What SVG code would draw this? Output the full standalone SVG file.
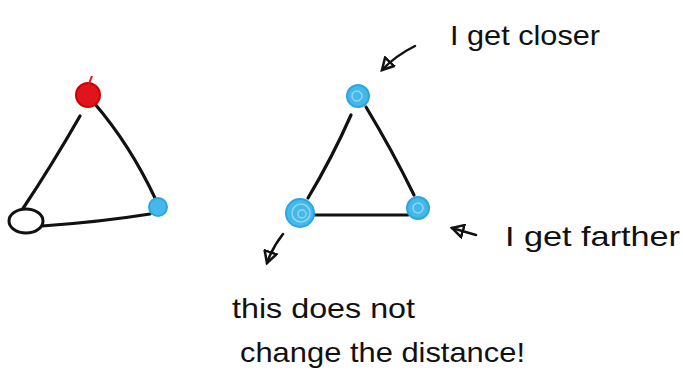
<svg xmlns="http://www.w3.org/2000/svg" width="683" height="387" viewBox="0 0 683 387">
<style>
.edge{fill:none;stroke:#111;stroke-width:3.2;stroke-linecap:round}
.ptr{fill:none;stroke:#111;stroke-width:2.5;stroke-linecap:round;marker-end:url(#head)}
.blue{fill:#45b8ea;stroke:#2aa6e0;stroke-width:2}
.ring{fill:none;stroke:#8fd6f5;stroke-width:1.5}
.lbl{font-family:"Liberation Sans",Arial,sans-serif;font-size:28px;fill:#111}
</style>
<defs>
<marker id="head" viewBox="0 0 12 12" refX="10" refY="6" markerWidth="6" markerHeight="6" orient="auto" markerUnits="strokeWidth">
<path d="M1,1 L10,6 L1,11 Z" fill="none" stroke="#111" stroke-width="2"/>
</marker>
</defs>
<rect width="683" height="387" fill="#fff"/>
<g id="connectors">
<path class="edge" d="M80,116 Q52,165 22,210"/>
<path class="edge" d="M95,104 Q130,145 155,198"/>
<path class="edge" d="M42,226 Q100,222 150,214"/>
<path class="edge" d="M351,115 Q332,158 308,198" stroke-width="2.5"/>
<path class="edge" d="M366,107 Q392,150 414,195" stroke-width="2.5"/>
<path class="edge" d="M312,215 L408,215" stroke-width="2.5"/>
<path class="ptr" d="M415,46 Q395,56 382,70"/>
<path class="ptr" d="M476,235 L452,228"/>
<path class="ptr" d="M283,234 Q272,248 267,263"/>
</g>
<g id="node-red">
<circle cx="88" cy="95" r="12" fill="#e2141b" stroke="#c00" stroke-width="2"/>
<path d="M88,86 L92,76" stroke="#e2141b" stroke-width="2" fill="none"/>
</g>
<g id="node-black">
<ellipse cx="26" cy="221" rx="17" ry="12" fill="#fff" stroke="#111" stroke-width="3"/>
</g>
<g id="node-blue-left">
<circle class="blue" cx="158" cy="207" r="9"/>
</g>
<g id="node-top">
<circle class="blue" cx="358" cy="96" r="11"/>
<circle class="ring" cx="357" cy="96" r="5"/>
</g>
<g id="node-bottom-left">
<circle class="blue" cx="300" cy="213" r="14"/>
<circle class="ring" cx="301" cy="213" r="9"/>
<circle class="ring" cx="302" cy="214" r="4"/>
</g>
<g id="node-bottom-right">
<circle class="blue" cx="418" cy="208" r="11"/>
<circle class="ring" cx="418" cy="208" r="5"/>
</g>
<g id="labels">
<text class="lbl" x="450" y="45" textLength="150" lengthAdjust="spacingAndGlyphs">I get closer</text>
<text class="lbl" x="505" y="246" textLength="175" lengthAdjust="spacingAndGlyphs">I get farther</text>
<text class="lbl" x="232" y="318" textLength="183" lengthAdjust="spacingAndGlyphs">this does not</text>
<text class="lbl" x="240" y="362" textLength="285" lengthAdjust="spacingAndGlyphs">change the distance!</text>
</g>
</svg>
